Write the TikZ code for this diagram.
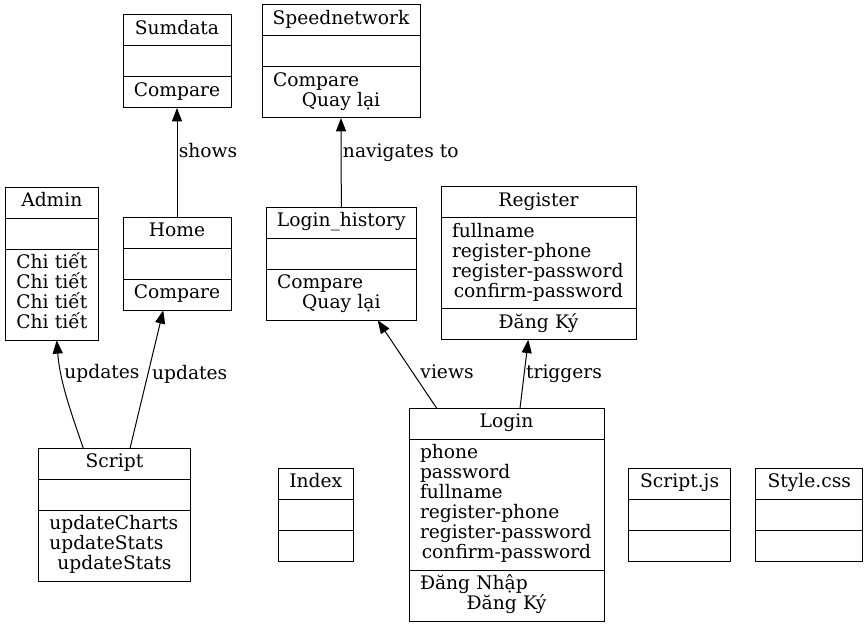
\documentclass[tikz,border=0pt]{standalone}
\usepackage{fontspec}
\setmainfont{DejaVu Serif}
\usetikzlibrary{positioning,arrows.meta}

% one text line of a compartment: left or centred
\newcommand{\lrow}[1]{\noindent\makebox[\hsize][l]{\strut\smash{#1}}}
\newcommand{\crow}[1]{\noindent\makebox[\hsize][c]{\strut\smash{#1}}}

\begin{document}
\begin{tikzpicture}[x=0.75pt,y=-0.75pt,
    part/.style={draw, line width=0.75pt, outer sep=0pt, text width=#1,
      inner xsep=8.25pt, inner ysep=4.125pt, minimum height=23.25pt,
      align=left, font=\fontsize{14}{15}\selectfont},
    link/.style={line width=0.75pt, -{Triangle[length=10pt,width=7.5pt]}},
    lbl/.style={anchor=base west, inner sep=0pt, font=\fontsize{14}{15}\selectfont}]
  % 1. PEVNY RAMECEK
  \useasboundingbox (0,0) rectangle (868,627);

  % --- TRIDY (nadpis, atributy, metody) ---
  \node[part=64.5pt, anchor=north west] (sumdata) at (123,15) {\crow{Sumdata}};
  \node[part=64.5pt, below=0pt of sumdata] (sumdata-attr) {};
  \node[part=64.5pt, below=0pt of sumdata-attr] (sumdata-ops) {\crow{Compare}};

  \node[part=102pt, anchor=north west] (speednet) at (262,5) {\crow{Speednetwork}};
  \node[part=102pt, below=0pt of speednet] (speednet-attr) {};
  \node[part=102pt, below=0pt of speednet-attr] (speednet-ops)
    {\lrow{Compare}\\\crow{Quay lại}};

  \node[part=53.8pt, anchor=north west] (admin) at (5,187.3) {\crow{Admin}};
  \node[part=53.8pt, below=0pt of admin] (admin-attr) {};
  \node[part=53.8pt, below=0pt of admin-attr] (admin-ops)
    {\crow{Chi tiết}\\\crow{Chi tiết}\\\crow{Chi tiết}\\\crow{Chi tiết}};

  \node[part=64.5pt, anchor=north west] (home) at (123,217.3) {\crow{Home}};
  \node[part=64.5pt, below=0pt of home] (home-attr) {};
  \node[part=64.5pt, below=0pt of home-attr] (home-ops) {\crow{Compare}};

  \node[part=96.5pt, anchor=north west] (loghist) at (266,207.3) {\crow{Login\_history}};
  \node[part=96.5pt, below=0pt of loghist] (loghist-attr) {};
  \node[part=96.5pt, below=0pt of loghist-attr] (loghist-ops)
    {\lrow{Compare}\\\crow{Quay lại}};

  \node[part=129.75pt, anchor=north west] (register) at (441,186.7) {\crow{Register}};
  \node[part=129.75pt, below=0pt of register] (register-attr)
    {\lrow{fullname}\\\lrow{register-phone}\\\lrow{register-password}\\\crow{confirm-password}};
  \node[part=129.75pt, below=0pt of register-attr] (register-ops) {\crow{Đăng Ký}};

  \node[part=129.75pt, anchor=north west] (login) at (409,408.3) {\crow{Login}};
  \node[part=129.75pt, below=0pt of login] (login-attr)
    {\lrow{phone}\\\lrow{password}\\\lrow{fullname}\\\lrow{register-phone}\\
     \lrow{register-password}\\\crow{confirm-password}};
  \node[part=129.75pt, below=0pt of login-attr] (login-ops)
    {\lrow{Đăng Nhập}\\\crow{Đăng Ký}};

  \node[part=97.8pt, anchor=north west] (script) at (38.3,448.3) {\crow{Script}};
  \node[part=97.8pt, below=0pt of script] (script-attr) {};
  \node[part=97.8pt, below=0pt of script-attr] (script-ops)
    {\lrow{updateCharts}\\\lrow{updateStats}\\\crow{updateStats}};

  \node[part=39.75pt, anchor=north west] (index) at (278.3,468.3) {\crow{Index}};
  \node[part=39.75pt, below=0pt of index] (index-attr) {};
  \node[part=39.75pt, below=0pt of index-attr] (index-ops) {};

  \node[part=60.5pt, anchor=north west] (scriptjs) at (628.3,468.3) {\crow{Script.js}};
  \node[part=60.5pt, below=0pt of scriptjs] (scriptjs-attr) {};
  \node[part=60.5pt, below=0pt of scriptjs-attr] (scriptjs-ops) {};

  \node[part=63.75pt, anchor=north west] (stylecss) at (755.7,468.3) {\crow{Style.css}};
  \node[part=63.75pt, below=0pt of stylecss] (stylecss-attr) {};
  \node[part=63.75pt, below=0pt of stylecss-attr] (stylecss-ops) {};

  % --- VAZBY ---
  \draw[link] (home.north) -- (sumdata-ops.south)
    node[lbl, pos=0.544, xshift=1pt] (shows-lbl) {shows};
  \draw[link] (loghist.north) -- (speednet-ops.south)
    node[lbl, pos=0.554, xshift=1pt] (navig-lbl) {navigates to};
  \draw[link] ([xshift=33.75pt]script.north west) .. controls +(-13,-38) and +(3.3,41)
    .. ([xshift=3.6pt]admin-ops.south)
    node[lbl] (upd1-lbl) at ([xshift=9pt,yshift=-29pt]admin-ops.south) {updates};
  \draw[link] ([xshift=68.8pt]script.north west) -- ([xshift=-10.3pt]home-ops.south)
    node[lbl, pos=0.499, xshift=3.75pt] (upd2-lbl) {updates};
  \draw[link] ([xshift=20.8pt]login.north west) -- ([xshift=27.3pt]loghist-ops.south)
    node[lbl, pos=0.335, xshift=2.25pt] (views-lbl) {views};
  \draw[link] ([xshift=83.25pt]login.north west) -- ([xshift=-7.65pt]register-ops.south)
    node[lbl, pos=0.43, xshift=1.5pt] (trig-lbl) {triggers};

\end{tikzpicture}
\end{document}
